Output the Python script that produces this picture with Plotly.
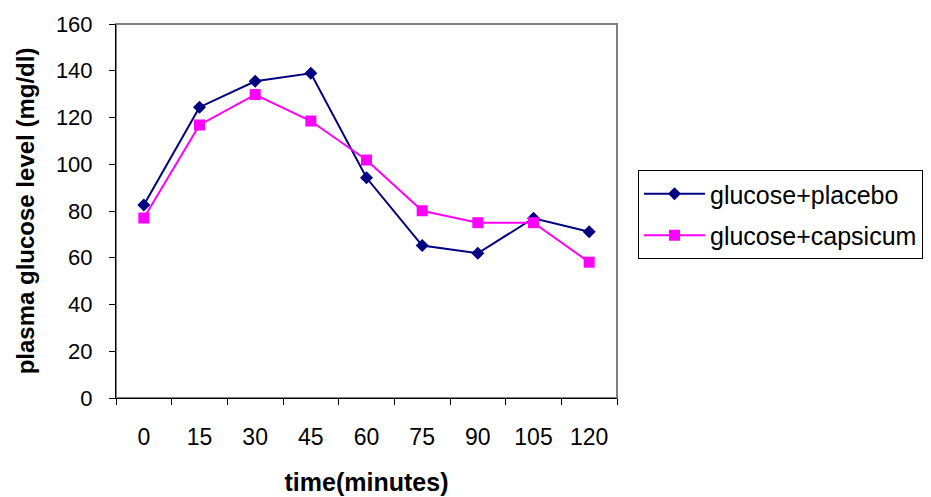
import plotly.graph_objects as go

# Sampling times (minutes) and mean plasma glucose (mg/dl)
times = ["0", "15", "30", "45", "60", "75", "90", "105", "120"]
placebo = [82.6, 124.4, 135.5, 138.9, 94.2, 65.2, 61.9, 76.9, 71.1]
capsicum = [77.0, 116.8, 129.8, 118.5, 101.8, 80.1, 75.0, 75.0, 58.1]
y_ticks = [0, 20, 40, 60, 80, 100, 120, 140, 160]

FONT = "Liberation Sans, Arial, sans-serif"
W, H = 931, 497

fig = go.Figure()
fig.add_trace(go.Scatter(
    x=times, y=placebo, name="glucose+placebo", mode="lines+markers",
    legendgroup="placebo",
    line=dict(color="#000080", width=2),
    marker=dict(symbol="diamond", size=10, color="#000080"),
))
fig.add_trace(go.Scatter(
    x=times, y=capsicum, name="glucose+capsicum", mode="lines+markers",
    legendgroup="capsicum",
    line=dict(color="#ff00ff", width=2),
    marker=dict(symbol="square", size=11, color="#ff00ff"),
))

# gray frame around the plot area (top/right edges)
fig.add_shape(type="rect", xref="paper", yref="paper", x0=0, y0=0, x1=1, y1=1,
              line=dict(color="#808080", width=2), layer="below")

fig.update_layout(
    width=W, height=H,
    margin=dict(l=116, r=314, t=24, b=99, autoexpand=False),
    paper_bgcolor="white", plot_bgcolor="white",
    font=dict(family=FONT, size=22, color="black"),
    showlegend=True,
    legend=dict(xref="container", yref="container",
                x=638 / W, y=1 - 170 / H, xanchor="left", yanchor="top",
                bordercolor="black", borderwidth=1,
                font=dict(family=FONT, size=25),
                tracegroupgap=6, itemwidth=61),
    xaxis=dict(
        type="category", range=[-0.5, 8.5], automargin=False,
        tickson="boundaries", ticks="outside", ticklen=6, tickcolor="black",
        showline=True, linecolor="black", linewidth=1,
        showgrid=False, zeroline=False,
        tickfont=dict(size=23),
        ticklabelstandoff=18,
        title=dict(text="<b>time(minutes)</b>", font=dict(family=FONT, size=25), standoff=24),
    ),
    yaxis=dict(
        range=[0, 160], tickvals=y_ticks, automargin=False,
        ticks="outside", ticklen=6, tickcolor="black",
        showline=True, linecolor="black", linewidth=1,
        showgrid=False, zeroline=False,
        ticklabelstandoff=12,
        title=dict(text="<b>plasma glucose level (mg/dl)</b>", font=dict(family=FONT, size=24), standoff=14),
    ),
)

fig.write_html("out.html")
